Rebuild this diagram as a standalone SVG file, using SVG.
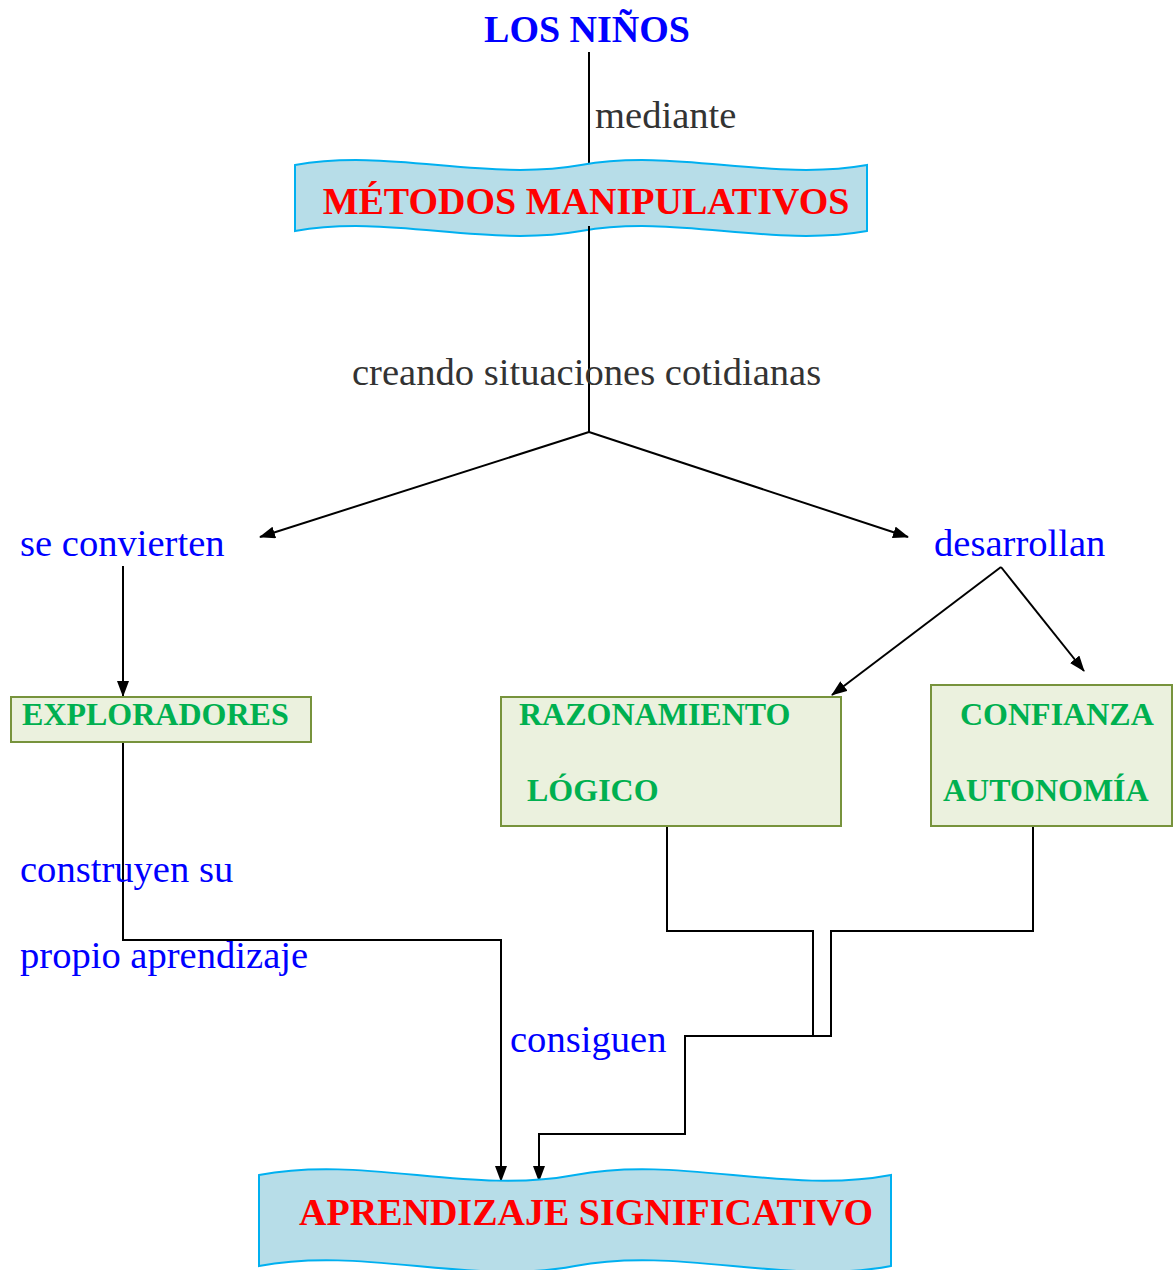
<svg xmlns="http://www.w3.org/2000/svg" width="1173" height="1270" viewBox="0 0 1173 1270">
<style>
.t{font-family:"Liberation Serif","Times New Roman",serif}
.blue{fill:#0000ff;font-size:38.6px}
.gray{fill:#333333;font-size:38.6px}
.bt{fill:#0000ff;font-size:38px;font-weight:bold}
.red{fill:#ff0000;font-size:38px;font-weight:bold}
.grn{fill:#00b050;font-size:32px;font-weight:bold}
.ban{fill:#b7dde8;stroke:#00b0f0;stroke-width:2}
.box{fill:#ebf1de;stroke:#77933c;stroke-width:2}
.c{fill:none;stroke:#000;stroke-width:2}
</style>
<defs>
<marker id="ah" markerWidth="16" markerHeight="12" refX="15" refY="6" orient="auto" markerUnits="userSpaceOnUse">
<path d="M0,0 L16,6 L0,12 z" fill="#000"/>
</marker>
</defs>
<g id="connectors">
<line class="c" x1="589" y1="52" x2="589" y2="175"/>
<line class="c" x1="589" y1="226" x2="589" y2="432"/>
<line class="c" x1="589" y1="432" x2="260" y2="537" marker-end="url(#ah)"/>
<line class="c" x1="589" y1="432" x2="908" y2="537" marker-end="url(#ah)"/>
<line class="c" x1="123" y1="566" x2="123" y2="696" marker-end="url(#ah)"/>
<line class="c" x1="1001" y1="567" x2="832" y2="695" marker-end="url(#ah)"/>
<line class="c" x1="1001" y1="567" x2="1084" y2="671" marker-end="url(#ah)"/>
<polyline class="c" points="123,742 123,940 501,940 501,1181" marker-end="url(#ah)"/>
<polyline class="c" points="667,826 667,931 813,931 813,1036"/>
<polyline class="c" points="1033,826 1033,931 831,931 831,1036 685,1036 685,1134 539,1134 539,1181" marker-end="url(#ah)"/>
</g>
<g id="los-ninos">
<text class="t bt" x="587" y="42" text-anchor="middle">LOS NIÑOS</text>
</g>
<g id="lbl-mediante">
<text class="t gray" x="595" y="128">mediante</text>
</g>
<g id="metodos">
<path class="ban" d="M295,165 C390,148 486,182 581,165 C676,148 772,182 867,165 L867,231 C772,248 676,214 581,231 C486,248 390,214 295,231 Z"/>
<text class="t red" x="586" y="214" text-anchor="middle">MÉTODOS MANIPULATIVOS</text>
</g>
<line class="c" x1="589" y1="226" x2="589" y2="240"/>
<g id="lbl-creando">
<text class="t gray" x="352" y="385">creando situaciones cotidianas</text>
</g>
<g id="lbl-se-convierten">
<text class="t blue" x="20" y="556">se convierten</text>
</g>
<g id="lbl-desarrollan">
<text class="t blue" x="934" y="556">desarrollan</text>
</g>
<g id="exploradores">
<rect class="box" x="11" y="697" width="300" height="45"/>
<text class="t grn" x="22" y="725">EXPLORADORES</text>
</g>
<g id="razonamiento">
<rect class="box" x="501" y="697" width="340" height="129"/>
<text class="t grn" x="519" y="725">RAZONAMIENTO</text>
<text class="t grn" x="527" y="801">LÓGICO</text>
</g>
<g id="confianza">
<rect class="box" x="931" y="685" width="241" height="141"/>
<text class="t grn" x="960" y="725">CONFIANZA</text>
<text class="t grn" x="943" y="801">AUTONOMÍA</text>
</g>
<g id="lbl-construyen">
<text class="t blue" x="20" y="882">construyen su</text>
<text class="t blue" x="20" y="968">propio aprendizaje</text>
</g>
<g id="lbl-consiguen">
<text class="t blue" x="510" y="1052">consiguen</text>
</g>
<g id="aprendizaje">
<path class="ban" d="M259,1175 C364,1155 470,1195 575,1175 C680,1155 786,1195 891,1175 L891,1266 C786,1286 680,1246 575,1266 C470,1286 364,1246 259,1266 Z"/>
<text class="t red" x="586" y="1225" text-anchor="middle">APRENDIZAJE SIGNIFICATIVO</text>
</g>
</svg>
